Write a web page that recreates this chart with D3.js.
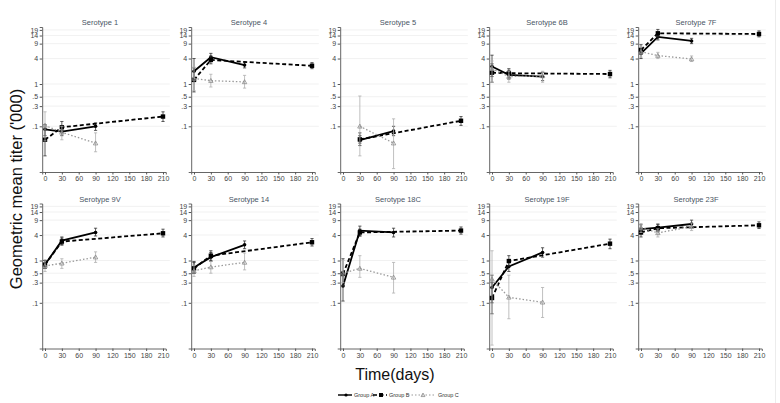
<!DOCTYPE html>
<html><head><meta charset="utf-8">
<script src="https://cdn.jsdelivr.net/npm/d3@7/dist/d3.min.js"></script>
<style>body{margin:0;background:#fff}svg{display:block;font-family:"Liberation Sans",Arial,sans-serif}</style>
</head><body><svg id="c" width="780" height="403"></svg>
<script>
const serotypes = ["1","4","5","6B","7F","9V","14","18C","19F","23F"];
const daysA = [0,30,90];
const daysB = [0,30,210];
const daysC = [0,30,90];
const yTicks = [0.1,0.3,0.5,1,4,9,14,19];
const xTicks = [0,30,60,90,120,150,180,210];

const groupA   = [[0.085,0.075,0.1],[2.0,4.3,2.8],[null,0.047,0.077],[2.6,1.65,1.5],[5.3,13,10.4],[0.8,2.95,4.6],[0.68,1.2,2.35],[0.25,5.1,4.6],[0.23,0.72,1.55],[5.5,6.0,7.3]];
const groupALo = [[0.06,0.06,0.08],[1.2,3.4,2.4],[null,0.04,0.06],[1.5,1.3,1.2],[4.0,11,9],[0.65,2.4,3.8],[0.5,0.95,1.9],[0.11,3.8,3.6],[0.1,0.55,1.2],[4.3,5.0,6.0]];
const groupAHi = [[0.11,0.09,0.12],[4.0,5.3,3.3],[null,0.06,0.1],[4.8,2.1,1.9],[7,16,12],[1.0,3.6,5.8],[0.95,1.55,2.9],[0.55,6.5,5.8],[0.45,0.95,2.0],[7.0,7.3,9.0]];

const groupB   = [[0.048,0.095,0.17],[1.25,3.7,2.7],[null,0.049,0.135],[1.85,1.8,1.72],[6.4,15.8,15.2],[0.8,2.8,4.4],[0.65,1.3,2.7],[0.48,4.6,5.1],[0.13,0.97,2.5],[4.6,5.8,6.8]];
const groupBLo = [[0.02,0.08,0.13],[0.65,3.0,2.3],[null,0.035,0.105],[1.1,1.4,1.4],[5,13,13],[0.65,2.3,3.6],[0.5,1.0,2.2],[0.25,3.8,4.2],[0.055,0.75,1.9],[3.6,4.8,5.7]];
const groupBHi = [[0.085,0.13,0.22],[2.4,4.6,3.2],[null,0.07,0.17],[3.0,2.3,2.1],[8.5,19.5,18],[1.0,3.4,5.5],[0.9,1.7,3.3],[1.1,5.5,6.2],[0.3,1.3,3.2],[5.8,7.0,8.2]];

const groupC   = [[0.105,0.072,0.04],[1.35,1.2,1.12],[null,0.1,0.04],[2.3,1.5,1.55],[5.8,4.7,3.9],[0.75,0.86,1.2],[0.57,0.7,0.9],[0.5,0.65,0.4],[0.36,0.135,0.103],[6.0,4.5,6.3]];
const groupCLo = [[0.045,0.048,0.025],[0.7,0.85,0.8],[null,0.02,0.01],[1.1,1.1,1.1],[4.3,4.0,3.4],[0.55,0.65,0.9],[0.42,0.5,0.6],[0.3,0.4,0.17],[0.01,0.042,0.045],[4.6,3.6,5.1]];
const groupCHi = [[0.22,0.1,0.07],[2.5,1.7,1.6],[null,0.52,0.15],[3.5,2.0,2.0],[7.5,5.6,4.6],[1.05,1.1,1.6],[0.78,0.95,1.5],[1.0,1.3,0.9],[1.7,0.45,0.23],[7.5,5.6,7.7]];

const groups = [
  {name:"Group A", days:daysA, v:groupA, lo:groupALo, hi:groupAHi, color:"#000", width:1.8, dash:null, marker:"circle", ms:1.8},
  {name:"Group B", days:daysB, v:groupB, lo:groupBLo, hi:groupBHi, color:"#000", width:1.8, dash:"4,2.5", marker:"square", ms:2.2},
  {name:"Group C", days:daysC, v:groupC, lo:groupCLo, hi:groupCHi, color:"#9a9a9a", width:1.3, dash:"1.5,2", marker:"triangle", ms:2.2}
];

const svg = d3.select("#c");
svg.append("line").attr("x1",775.5).attr("x2",775.5).attr("y1",0).attr("y2",403).attr("stroke","#ececec");

const fmt = v => v < 1 ? "." + String(Math.round(v*10)) : String(v);
const decade = 42.3;

serotypes.forEach((s, i) => {
  const col = i % 5, row = Math.floor(i / 5);
  const x0 = 45 + col*149;
  const y1 = row === 0 ? 84 : 260.5;
  const x = d3.scaleLinear().domain([-5,215]).range([x0 - 118/210*5, x0 + 118/210*215]);
  const y = d3.scaleLog().domain([Math.pow(10,-88/decade), Math.pow(10,57/decade)]).range([y1+88, y1-57]);
  const g = svg.append("g");

  // gridlines
  g.selectAll(".grid").data(yTicks).join("line")
    .attr("x1", x.range()[0]).attr("x2", x.range()[1]+4)
    .attr("y1", d=>y(d)).attr("y2", d=>y(d))
    .attr("stroke","#ededed").attr("stroke-width",0.8);

  const ya = g.append("g").attr("transform",`translate(${x.range()[0]},0)`)
    .call(d3.axisLeft(y).tickValues(yTicks).tickFormat(fmt).tickSize(2.5).tickPadding(1.5));
  const xa = g.append("g").attr("transform",`translate(0,${y.range()[0]})`)
    .call(d3.axisBottom(x).tickValues(xTicks).tickSize(2.5).tickPadding(2));
  [ya, xa].forEach(a => {
    a.select(".domain").attr("stroke","#555").attr("stroke-width",0.9);
    a.selectAll(".tick line").attr("stroke","#555");
    a.selectAll("text").attr("fill","#444").attr("font-size","7px").attr("font-family","Liberation Sans, Arial, sans-serif");
  });

  g.append("text").attr("x", x0+55).attr("y", y1-59).attr("text-anchor","middle")
    .attr("font-size","7.5px").attr("fill","#4a5565").text("Serotype " + s);

  groups.forEach(gr => {
    const pts = gr.days.map((d,k)=>({d, v:gr.v[i][k], lo:gr.lo[i][k], hi:gr.hi[i][k]})).filter(p=>p.v!=null);
    // error bars
    pts.forEach(p => {
      const eg = g.append("g").attr("stroke", gr.color === "#000" ? "#333" : "#b0b0b0").attr("stroke-width",0.8);
      eg.append("line").attr("x1",x(p.d)).attr("x2",x(p.d)).attr("y1",y(p.lo)).attr("y2",y(p.hi));
      eg.append("line").attr("x1",x(p.d)-1.6).attr("x2",x(p.d)+1.6).attr("y1",y(p.lo)).attr("y2",y(p.lo));
      eg.append("line").attr("x1",x(p.d)-1.6).attr("x2",x(p.d)+1.6).attr("y1",y(p.hi)).attr("y2",y(p.hi));
    });
    g.append("path").datum(pts)
      .attr("d", d3.line().x(p=>x(p.d)).y(p=>y(p.v)))
      .attr("fill","none").attr("stroke",gr.color).attr("stroke-width",gr.width)
      .attr("stroke-dasharray",gr.dash);
    pts.forEach(p => drawMarker(g, gr, x(p.d), y(p.v)));
  });
});

function drawMarker(g, gr, cx, cy){
  if (gr.marker === "circle") g.append("circle").attr("cx",cx).attr("cy",cy).attr("r",gr.ms).attr("fill","#000");
  else if (gr.marker === "square") g.append("rect").attr("x",cx-gr.ms).attr("y",cy-gr.ms).attr("width",gr.ms*2).attr("height",gr.ms*2).attr("fill","#000");
  else g.append("path").attr("d",`M${cx},${cy-gr.ms}L${cx+gr.ms},${cy+gr.ms*0.8}L${cx-gr.ms},${cy+gr.ms*0.8}Z`)
    .attr("fill","none").attr("stroke","#8a8a8a").attr("stroke-width",0.8);
}

// axis titles
svg.append("text").attr("transform","translate(22,189) rotate(-90)").attr("text-anchor","middle")
  .attr("font-size","16.5px").attr("fill","#111").text("Geometric mean titer ('000)");
svg.append("text").attr("x",395).attr("y",380).attr("text-anchor","middle")
  .attr("font-size","16px").attr("fill","#111").text("Time(days)");

// legend
const legX = [340, 375, 410];
const legLen = [12, 12, 26];
groups.forEach((gr, k) => {
  const lx = legX[k], ly = 395;
  svg.append("line").attr("x1",lx-2).attr("x2",lx+legLen[k]).attr("y1",ly).attr("y2",ly)
    .attr("stroke",gr.color).attr("stroke-width",gr.width*0.8).attr("stroke-dasharray",gr.dash);
  drawMarker(svg, {...gr, ms: gr.ms*0.9}, lx+legLen[k]/2, ly);
  svg.append("text").attr("x",lx+legLen[k]+2).attr("y",ly+2).attr("font-size","5.5px").attr("fill","#333").text(gr.name);
});
</script></body></html>
